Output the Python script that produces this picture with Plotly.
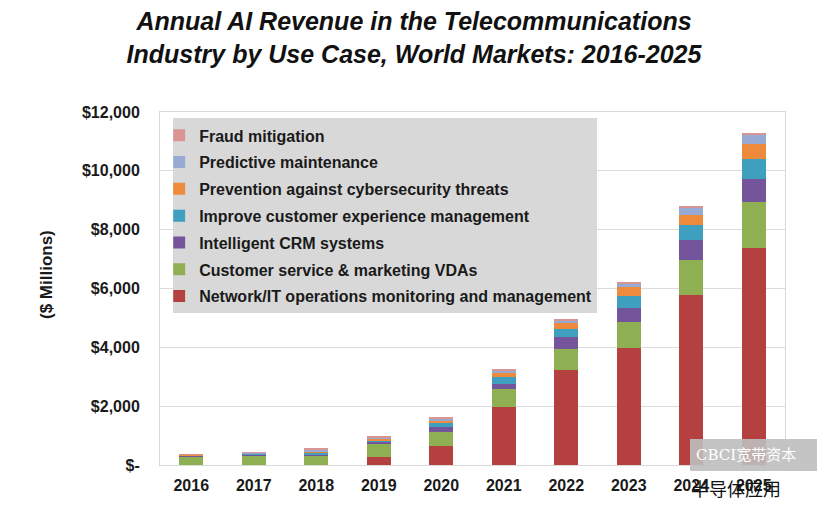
import plotly.graph_objects as go

years = ["2016", "2017", "2018", "2019", "2020", "2021", "2022", "2023", "2024", "2025"]

network_it = [0, 0, 0, 283, 657, 1962, 3230, 3961, 5780, 7367]
cust_service_vdas = [283, 317, 317, 420, 476, 612, 714, 911, 1190, 1587]
intelligent_crm = [30, 35, 40, 80, 170, 170, 397, 455, 680, 771]
improve_cx = [20, 25, 60, 60, 113, 238, 272, 418, 510, 680]
cybersecurity = [10, 25, 30, 60, 70, 158, 204, 296, 351, 500]
predictive_maint = [15, 20, 80, 40, 77, 80, 100, 120, 227, 317]
fraud_mitigation = [10, 15, 20, 40, 70, 45, 50, 60, 80, 80]

series_names = [
    "Network/IT operations monitoring and management",
    "Customer service & marketing VDAs",
    "Intelligent CRM systems",
    "Improve customer experience management",
    "Prevention against cybersecurity threats",
    "Predictive maintenance",
    "Fraud mitigation",
]
series_values = [network_it, cust_service_vdas, intelligent_crm, improve_cx,
                 cybersecurity, predictive_maint, fraud_mitigation]
series_colors = ["#B4403F", "#8EB053", "#74559C", "#3E9FBE", "#EE8A3C", "#97AAD3", "#D99594"]

y_tickvals = [0, 2000, 4000, 6000, 8000, 10000, 12000]
y_ticktext = ["$-", "$2,000", "$4,000", "$6,000", "$8,000", "$10,000", "$12,000"]

fig = go.Figure()
n = len(series_names)
for i, (name, vals, col) in enumerate(zip(series_names, series_values, series_colors)):
    fig.add_trace(go.Bar(
        x=years, y=vals, name=name, marker=dict(color=col, line=dict(width=0)),
        legendgroup=f"g{i}", legendrank=100 + (n - i),
    ))

font_family = "Liberation Sans, Arial, sans-serif"

fig.update_layout(
    width=837, height=523,
    barmode="stack", bargap=0.61,
    paper_bgcolor="white", plot_bgcolor="white",
    margin=dict(l=152, r=60, t=104, b=66, autoexpand=False),
    font=dict(family=font_family, color="#222222"),
    title=dict(
        text="Annual AI Revenue in the Telecommunications<br>Industry by Use Case, World Markets: 2016-2025",
        font=dict(family=font_family, size=25, color="#111111", weight="bold", style="italic"),
        x=406 / 837, xanchor="center", xref="container",
        y=1 - 22 / 523, yanchor="middle", yref="container",
    ),
    legend=dict(
        x=0.021, y=0.982, xanchor="left", yanchor="top",
        bgcolor="#D8D8D8", borderwidth=0,
        traceorder="grouped", tracegroupgap=3,
        font=dict(family=font_family, size=16, color="#1a1a1a", weight="bold"),
        itemwidth=30, indentation=-14,
    ),
    xaxis=dict(
        type="category", showgrid=False, automargin=False,
        showline=True, linecolor="#D9D9D9", linewidth=1, mirror=True,
        ticks="", tickfont=dict(family=font_family, size=16, color="#1a1a1a", weight="bold"),
        ticklabelstandoff=6,
    ),
    yaxis=dict(
        range=[0, 12000], tickvals=y_tickvals, ticktext=y_ticktext, automargin=False,
        showgrid=True, gridcolor="#DCDCDC", gridwidth=1,
        showline=True, linecolor="#D9D9D9", linewidth=1, mirror=True,
        zeroline=False, ticks="",
        tickfont=dict(family=font_family, size=16, color="#1a1a1a", weight="bold"),
        ticklabelstandoff=16,
    ),
)

# y-axis title placed where the reference shows it
fig.add_annotation(xref="paper", yref="paper",
                   x=(46 - 160) / 625, y=(465 - 275) / 353, xanchor="center", yanchor="middle",
                   text="($ Millions)", textangle=-90, showarrow=False,
                   font=dict(family=font_family, size=17, color="#1a1a1a", weight="bold"))

# watermark
fig.add_shape(type="rect", xref="paper", yref="paper",
              x0=(690 - 160) / 625, x1=(817 - 160) / 625,
              y0=(465 - 471) / 353, y1=(465 - 439) / 353,
              fillcolor="rgba(190,190,190,0.9)", line=dict(width=0), layer="above")
fig.add_annotation(xref="paper", yref="paper",
                   x=(694 - 160) / 625, y=(465 - 455) / 353, xanchor="left", yanchor="middle",
                   text="CBCI宽带资本", showarrow=False,
                   font=dict(family="DejaVu Serif, Noto Sans CJK SC", size=15, color="white"))
fig.add_annotation(xref="paper", yref="paper",
                   x=(689 - 160) / 625, y=(465 - 488) / 353, xanchor="left", yanchor="middle",
                   text="半导体应用", showarrow=False,
                   font=dict(family="Noto Sans CJK SC", size=18, color="#111111"))

fig.write_html("out.html")
